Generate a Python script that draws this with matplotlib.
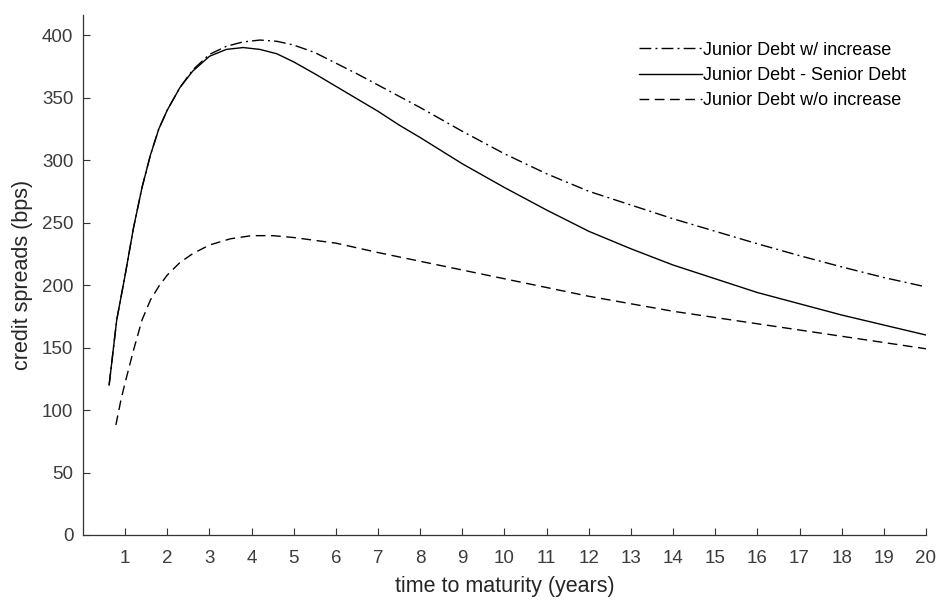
import matplotlib
matplotlib.use("Agg")
import matplotlib.pyplot as plt

# credit spreads (bps) against time to maturity (years)
t_solid = [0.62, 0.8, 1.0, 1.2, 1.4, 1.6, 1.8, 2.0, 2.3, 2.6, 3.0, 3.4, 3.8, 4.2, 4.6, 5.0,
           5.5, 6.0, 6.5, 7.0, 7.5, 8.0, 9, 10, 11, 12, 13, 14, 15, 16, 17, 18, 19, 20]
senior_gap = [120, 172, 208, 246, 278, 304, 325, 340, 358, 371, 383, 388.5, 390, 388.5, 385, 378.5,
              369, 359, 349, 339, 328, 318, 297, 278, 260, 243, 229, 216, 205, 194, 185, 176, 168, 160]
with_increase = [120, 172, 208, 246, 278, 304, 325, 340, 358, 372, 384.5, 391, 394.5, 396, 395, 392,
                 386, 377.5, 369, 360, 351, 342, 323, 305, 289, 275, 264, 253, 243, 233, 223.5, 214.5, 206, 198.5]

t_dashed = [0.78, 0.9, 1.0, 1.2, 1.4, 1.6, 1.8, 2.0, 2.3, 2.6, 3.0, 3.5, 4.0, 4.5, 5, 6, 7, 8, 9,
            10, 11, 12, 13, 14, 15, 16, 17, 18, 19, 20]
without_increase = [88, 108, 122, 148, 172, 188, 199, 208, 218, 225, 232, 237, 239.5, 239.5, 238, 233.5,
                    226, 219, 212, 205, 198, 191, 185, 179, 174, 169, 164, 159, 154, 149]

xticks = list(range(1, 21))
yticks = [0, 50, 100, 150, 200, 250, 300, 350, 400]

plt.rcParams['font.family'] = ['Liberation Sans', 'DejaVu Sans']

fig = plt.figure(figsize=(9.41, 6.02), dpi=100)
ax = fig.add_axes([0.0882, 0.1113, 0.8958, 0.8637])

axis_col = '#333333'
ax.plot(t_solid, with_increase, color='black', lw=1.0, linestyle=(0, (8.5, 3, 1.4, 3)),
        label='Junior Debt w/ increase')
ax.plot(t_solid, senior_gap, color='black', lw=1.0, label='Junior Debt - Senior Debt')
ax.plot(t_dashed, without_increase, color='black', lw=1.0, linestyle=(0, (7, 4)),
        label='Junior Debt w/o increase')

ax.set_xlim(0, 20)
ax.set_ylim(0, 416)
ax.set_xticks(xticks)
ax.set_yticks(yticks)
ax.tick_params(direction='in', length=5, width=0.8, colors=axis_col, labelsize=13.5,
               labelcolor='#3c3c3c')
ax.tick_params(axis='x', pad=11)
ax.tick_params(axis='y', pad=7)
for side in ['top', 'right']:
    ax.spines[side].set_visible(False)
for side in ['left', 'bottom']:
    ax.spines[side].set_color(axis_col)
    ax.spines[side].set_linewidth(0.9)

ax.set_xlabel('time to maturity (years)', fontsize=15.5, color='#262626', labelpad=6)
ax.set_ylabel('credit spreads (bps)', fontsize=15.5, color='#262626', labelpad=6)

ax.legend(loc='upper right', bbox_to_anchor=(0.996, 0.98), frameon=False, fontsize=13,
          handlelength=3.5, handletextpad=0.05, labelspacing=0.45)

fig.savefig('out.png', dpi=100)
